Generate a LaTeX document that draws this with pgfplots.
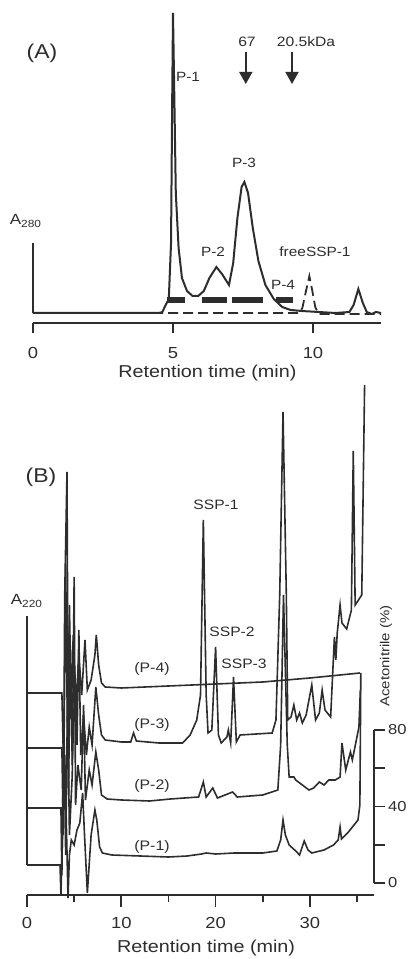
\documentclass[border=0pt]{standalone}
\usepackage{fontspec}
\setmainfont{Liberation Sans}[FakeStretch=1.15]
\usepackage{pgfplots}
\pgfplotsset{compat=1.18}
\usetikzlibrary{arrows.meta}
\definecolor{ink}{RGB}{45,45,45}
\begin{document}
\begin{tikzpicture}
\path[use as bounding box] (0,0) rectangle (204pt,479.5pt);
\pgfplotsset{
  every axis/.append style={
    /pgf/number format/assume math mode=true,
    tick label style={font=\fontsize{8}{10}\selectfont, text=ink},
    tick style={ink, line width=0.9pt},
    clip=false, enlargelimits=false, scale only axis,
  }
}
% ---------------- Panel A ----------------
\begin{axis}[at={(16.5pt,318pt)}, anchor=south west,
  x=14pt, y=0.5pt, xmin=0, xmax=12.43, ymin=0, ymax=310,
  axis x line=bottom, axis y line=none,
  x axis line style={ink, line width=0.9pt, -},
  xtick={0,5,10}, tick align=outside, major tick length=5pt,
  xticklabel style={anchor=center, yshift=-10pt},
  xlabel={Retention time (min)},
  xlabel style={font=\fontsize{8.6}{10}\selectfont, text=ink, anchor=center, at={(axis description cs:0.501,0)}, yshift=-25pt},
]
% A280 scale bar
\addplot[ink, line width=0.9pt] coordinates {(0,10) (0,80)};
% solid chromatogram
\addplot[ink, line width=1pt] coordinates {
(0,10) (4.5,10) (4.62,11) (4.72,17) (4.85,24) (4.93,80) (4.97,220) (5.0,310) (5.04,240) (5.1,130)
(5.2,75) (5.32,45) (5.5,32) (5.7,27) (5.9,27) (6.1,32) (6.3,45) (6.55,56) (6.75,49) (7.0,38)
(7.15,60) (7.3,105) (7.45,136) (7.55,141) (7.68,130) (7.85,95) (8.05,62) (8.3,38) (8.6,24)
(8.9,16) (9.2,13) (9.6,12) (10.2,11) (10.8,10) (11.3,11) (11.45,18) (11.62,34) (11.78,20)
(11.92,11) (12.1,9) (12.25,11) (12.43,10)};
% dashed chromatogram (free SSP-1)
\addplot[ink, line width=0.9pt, dash pattern=on 5pt off 2.5pt] coordinates {
(0,10) (9.5,10) (9.62,15) (9.75,32) (9.87,47) (9.97,33) (10.08,16) (10.2,9) (12.43,9)};
% fraction bars
\addplot[ink, line width=2.8pt, unbounded coords=jump] coordinates {
(4.77,23) (5.43,23) (nan,nan) (6.02,23) (6.92,23) (nan,nan) (7.1,23) (8.2,23) (nan,nan) (8.67,23) (9.3,23)};
% marker arrows
\draw[ink, line width=0.8pt, -{Triangle[width=6.5pt,length=6pt]}] (axis cs:7.6,271) -- (axis cs:7.6,239);
\draw[ink, line width=0.8pt, -{Triangle[width=6.5pt,length=6pt]}] (axis cs:9.25,271) -- (axis cs:9.25,239);
\end{axis}
% ---------------- Panel B ----------------
\begin{axis}[at={(13.5pt,32pt)}, anchor=south west,
  x=4.715pt, y=0.5pt, xmin=0, xmax=36.8, ymin=0, ymax=510,
  axis x line=bottom, axis y line=none,
  x axis line style={ink, line width=0.9pt, -},
  xtick={0,10,20,30}, minor xtick={5,15,25,35}, tick align=outside,
  major tick length=6pt, minor tick length=3.5pt,
  xticklabel style={anchor=center, yshift=-8pt},
  xlabel={Retention time (min)},
  xlabel style={font=\fontsize{8.6}{10}\selectfont, text=ink, anchor=center, at={(axis description cs:0.516,0)}, yshift=-26.5pt},
]
\addplot[ink, line width=0.9pt] coordinates {(0,30) (0,279)};
% P-1
\addplot[ink, line width=0.8pt] coordinates {
(0,30) (3.5,30) (3.6,0) (3.8,70) (4.0,140) (4.2,60) (4.35,-3) (4.5,40) (4.7,55) (5.0,50) (5.3,65)
(5.6,72) (5.9,102) (6.1,60) (6.4,2) (6.8,60) (7.2,85) (7.4,75) (7.7,48) (8.0,42) (9,40) (12,39)
(15,38) (17,39) (18.5,41) (19,42) (20,41) (22,42) (25,42) (26.5,44) (26.9,55) (27.15,75) (27.4,60)
(27.8,50) (28.5,44) (28.9,40) (29.4,54) (29.8,45) (30.2,42) (31.5,45) (32.5,50) (33.0,55) (33.2,68)
(33.35,56) (34,62) (35.1,75) (35.3,90) (35.4,222)};
% P-2
\addplot[ink, line width=0.8pt] coordinates {
(0,87) (3.6,87) (3.7,20) (3.9,180) (4.1,40) (4.3,200) (4.5,60) (4.8,120) (5.0,318) (5.15,90) (5.4,130)
(5.75,105) (6.0,190) (6.2,95) (6.6,125) (6.9,110) (7.3,143) (7.6,125) (7.9,100) (8.5,96) (10,95)
(13,94) (15.2,96) (18.2,98) (18.7,113) (19.0,98) (19.7,107) (20.2,97) (21.8,103) (22.3,98) (25,100)
(26.6,105) (26.9,150) (27.2,300) (27.6,150) (27.8,118) (28.3,118) (28.5,115) (29.2,110) (29.9,105)
(30.4,107) (31.0,113) (31.5,110) (32.0,115) (32.7,115) (33.2,118) (33.4,152) (33.8,125) (34.3,143)
(34.5,135) (35.2,168) (35.35,205)};
% P-3
\addplot[ink, line width=0.8pt] coordinates {
(0,147) (3.7,147) (3.85,60) (4.0,300) (4.24,423) (4.4,100) (4.6,250) (4.8,130) (5.1,220) (5.3,150)
(5.5,265) (5.7,140) (6.0,180) (6.3,140) (6.6,168) (6.9,150) (7.3,208) (7.6,180) (7.9,160) (8.3,155)
(10,153) (11.0,153) (11.3,162) (11.6,154) (14,152) (16.5,152) (17.3,160) (18.0,175) (18.4,200)
(18.7,375) (19.0,200) (19.2,162) (19.6,165) (20.0,248) (20.3,160) (20.6,152) (21.2,158) (21.35,165)
(21.6,152) (21.9,218) (22.2,153) (22.6,160) (26.0,162) (26.4,175) (26.8,300) (27.15,483) (27.5,300)
(27.65,175) (28.0,178) (28.3,190) (28.6,175) (28.9,182) (29.2,172) (29.6,180) (30.2,210) (30.6,175)
(31.0,182) (31.3,205) (31.6,185) (32.2,178) (32.6,258) (32.75,235) (32.9,262) (33.2,290) (33.4,272)
(33.9,266) (34.4,285) (34.6,444) (34.8,290) (35.5,300) (35.8,510)};
% P-4
\addplot[ink, line width=0.8pt] coordinates {
(0,202) (3.7,202) (3.9,120) (4.1,330) (4.3,150) (4.5,290) (4.7,180) (4.9,260) (5.2,190) (5.5,240)
(5.8,200) (6.15,255) (6.4,205) (6.8,215) (7.2,240) (7.35,260) (7.6,230) (7.9,212) (8.3,208)
(10,207) (15,209) (20,211) (25,213) (30,217) (35.3,222)};
\end{axis}
% ---------------- Acetonitrile scale ----------------
\begin{axis}[at={(186pt,38pt)}, anchor=south west,
  x=1pt, y=0.956pt, xmin=0, xmax=1, ymin=0, ymax=80,
  axis x line=none, axis y line=right,
  y axis line style={ink, line width=0.9pt, -},
  ytick={0,20,40,60,80}, yticklabels={0,,40,,80}, tick align=outside,
  major tick length=5.5pt,
  yticklabel style={anchor=west, xshift=-2pt, font=\fontsize{7.2}{9}\selectfont},
]
\addplot[draw=none] coordinates {(0,0) (1,80)};
\end{axis}
% ---------------- Text annotations (pixel coordinates) ----------------
\begin{scope}[x=0.5pt, y=-0.5pt, yshift=479.5pt, every node/.style={text=ink, inner sep=0pt}]
\node[font=\fontsize{10}{12}\selectfont] at (42,53) {(A)};
\node[font=\fontsize{6.7}{8}\selectfont] at (188,77) {P-1};
\node[font=\fontsize{6.8}{8}\selectfont] at (247,42) {67};
\node[font=\fontsize{6.8}{8}\selectfont] at (306,42) {20.5kDa};
\node[font=\fontsize{6.7}{8}\selectfont] at (244,163) {P-3};
\node[font=\fontsize{6.7}{8}\selectfont] at (213,252) {P-2};
\node[font=\fontsize{6.7}{8}\selectfont] at (315,252) {freeSSP-1};
\node[font=\fontsize{6.7}{8}\selectfont] at (283,285) {P-4};
\node[font=\fontsize{7.4}{9}\selectfont] at (26,221) {A\textsubscript{280}};
\node[font=\fontsize{10}{12}\selectfont] at (41,477) {(B)};
\node[font=\fontsize{7.4}{9}\selectfont] at (27,601) {A\textsubscript{220}};
\node[font=\fontsize{6.8}{8}\selectfont] at (216,505) {SSP-1};
\node[font=\fontsize{6.8}{8}\selectfont] at (232,632) {SSP-2};
\node[font=\fontsize{6.8}{8}\selectfont] at (244,664) {SSP-3};
\node[font=\fontsize{6.9}{8}\selectfont] at (152,669) {(P-4)};
\node[font=\fontsize{6.9}{8}\selectfont] at (152,725) {(P-3)};
\node[font=\fontsize{6.9}{8}\selectfont] at (152,786) {(P-2)};
\node[font=\fontsize{6.9}{8}\selectfont] at (152,847) {(P-1)};
\node[font=\fontsize{6.5}{8}\selectfont, rotate=90] at (386,656) {Acetonitrile (\%)};
\end{scope}
\end{tikzpicture}
\end{document}
